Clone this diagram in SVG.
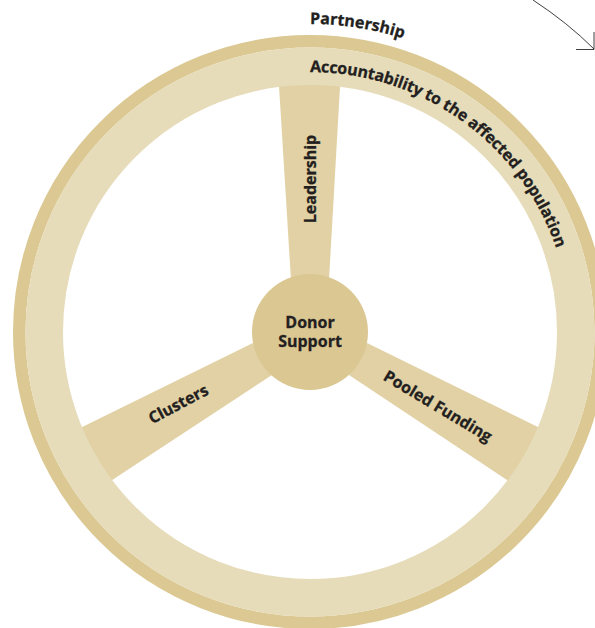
<svg xmlns="http://www.w3.org/2000/svg" width="595" height="628" viewBox="0 0 595 628">
<style>
.t{font-family:"Open Sans","Noto Sans",sans-serif;font-weight:700;fill:#231f20;stroke:#231f20;stroke-width:0.3px;font-size:16px}
.spoke{fill:#e1d1a4}
.m{text-anchor:middle}
</style>
<defs>
<path id="arcP" d="M310 24A308 308 0 0 1 618 332"/>
<path id="arcA" d="M310 72A260 260 0 0 1 570 332"/>
</defs>
<rect width="595" height="628" fill="#fff"/>
<g id="spoke-leadership">
<path class="spoke" d="M278.400 76L340.600 76L329 280H291Z"/>
</g>
<g id="spoke-clusters">
<path class="spoke" d="M253 343L70 433L100 488L272 375Z"/>
</g>
<g id="spoke-pooled">
<path class="spoke" d="M367 343L550 433L519 488L349 375Z"/>
</g>
<g id="wheel" fill="none">
<circle cx="310" cy="332" r="290.750" stroke="#dbc892" stroke-width="12.500"/>
<circle cx="310" cy="332" r="265.750" stroke="#e6dcb9" stroke-width="37.500"/>
</g>
<g id="hub">
<circle cx="310" cy="332" r="58" fill="#dbc792"/>
<text class="t m"><tspan x="310" y="328">Donor</tspan><tspan x="310" y="347">Support</tspan></text>
</g>
<g id="labels">
<text class="t m" transform="translate(316 179) rotate(-90)">Leadership</text>
<text class="t m" transform="translate(181 409) rotate(-28)">Clusters</text>
<text class="t m" transform="translate(435 411) rotate(31)">Pooled Funding</text>
<text class="t"><textPath href="#arcP">Partnership</textPath></text>
<text class="t"><textPath href="#arcA" textLength="323">Accountability to the affected population</textPath></text>
</g>
<g id="connectors" fill="none" stroke="#2a2a2a" stroke-width="0.9">
<path d="M533 0Q568 23 594 49"/>
<path d="M594 32V49.500H576"/>
</g>
</svg>
